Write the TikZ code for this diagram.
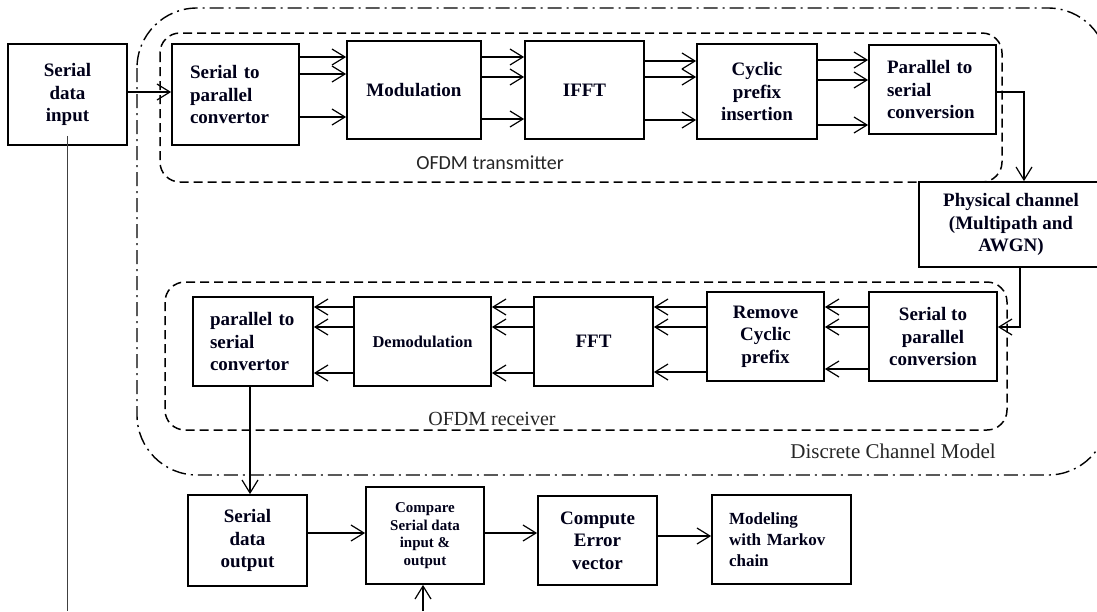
\documentclass[tikz,border=0pt]{standalone}
\usepackage{fontspec}
\newfontfamily\tnrfont{Liberation Serif}
\newfontfamily\carlfont{Carlito}
\usetikzlibrary{arrows.meta}
\begin{document}
\begin{tikzpicture}[x=1pt,y=-1pt,
  blk/.style={draw, line width=1.8pt, inner sep=0pt, align=center, text=black!90!blue,
    font=\tnrfont\bfseries\fontsize{19}{22.5}\selectfont},
  blkL/.style={blk, align=left},
  arr/.style={line width=1.2pt, -{Straight Barb[length=13pt,width=16pt,line width=1.2pt]}},
  plain/.style={line width=1pt, draw=black!75},
  ddash/.style={line width=1.5pt, dash pattern=on 9pt off 5pt, rounded corners=20pt},
  dashdotline/.style={line width=1.4pt, dash pattern=on 14pt off 5pt on 2pt off 5pt, rounded corners=60pt},
  lbl/.style={inner sep=0pt, text=black!85}
]
\useasboundingbox (0,0) rectangle (1097,611);
\clip (0,0) rectangle (1097,611);

% enclosing regions
\draw[dashdotline] (137,8) rectangle (1108,475);
\draw[ddash] (160,33) rectangle (1002,182);
\draw[ddash] (165,282) rectangle (1007,430);

% blocks
\node[blk, minimum width=119pt, minimum height=101pt] (in) at (67.5,94.5) {Serial\\data\\input};
\node[blkL, text width=91pt, inner xsep=18pt, minimum height=101pt] (s2p) at (235.5,94.5) {Serial to\\parallel\\convertor};
\node[blk, minimum width=134pt, minimum height=98pt] (mod) at (414,90) {Modulation};
\node[blk, minimum width=119pt, minimum height=98pt] (ifft) at (584.5,90) {IFFT};
\node[blk, minimum width=120pt, minimum height=95pt] (cyc) at (757,91.5) {Cyclic\\prefix\\insertion};
\node[blkL, text width=91pt, inner xsep=18pt, minimum height=89pt] (p2s) at (932.5,89.5) {Parallel to\\serial\\conversion};
\node[blk, minimum width=184pt, minimum height=85pt] (phy) at (1011,224.5) {Physical channel\\(Multipath and\\AWGN)};

\node[blk, minimum width=128pt, minimum height=89pt] (s2pr) at (933,336.5) {Serial to\\parallel\\conversion};
\node[blk, minimum width=117pt, minimum height=89pt] (rem) at (765.5,336.5) {Remove\\Cyclic\\prefix};
\node[blk, minimum width=119pt, minimum height=89pt] (fft) at (593.5,341.5) {FFT};
\node[blk, minimum width=137pt, minimum height=89pt, font=\tnrfont\bfseries\fontsize{16.5}{20}\selectfont] (dem) at (422.5,341.5) {Demodulation};
\node[blkL, text width=86pt, inner xsep=17pt, minimum height=89pt] (p2sr) at (253,341.5) {parallel to\\serial\\convertor};

\node[blk, minimum width=119pt, minimum height=91pt] (out) at (247.5,540.5) {Serial\\data\\output};
\node[blk, minimum width=118pt, minimum height=97pt, font=\tnrfont\bfseries\fontsize{15}{17.5}\selectfont] (cmp) at (425,535.5) {Compare\\Serial data\\input \&\\output};
\node[blk, minimum width=119pt, minimum height=89pt] (cer) at (597.5,540.5) {Compute\\Error\\vector};
\node[blkL, text width=105pt, inner xsep=17pt, minimum height=89pt, font=\tnrfont\bfseries\fontsize{17}{21}\selectfont] (mkv) at (781.5,539.5) {Modeling\\with Markov\\chain};

% labels
\node[lbl, font=\carlfont\fontsize{20}{24}\selectfont] (txl) at (490,163) {OFDM transmitter};
\node[lbl, anchor=base, font=\tnrfont\fontsize{20}{24}\selectfont] (rxl) at (492,425) {OFDM receiver};
\node[lbl, anchor=base, font=\tnrfont\fontsize{21}{25}\selectfont] (dcm) at (893,458) {Discrete Channel Model};

% free ends
\coordinate (bl) at (67,611);
\coordinate (cb) at (423,611);

% connectors
\draw[arr] (in.east |- 0,92) -- (s2p.west |- 0,92);
\foreach \yy in {57,74,117} \draw[arr] (s2p.east |- 0,\yy) -- (mod.west |- 0,\yy);
\foreach \yy in {57,77,119} \draw[arr] (mod.east |- 0,\yy) -- (ifft.west |- 0,\yy);
\foreach \yy in {61,77,120} \draw[arr] (ifft.east |- 0,\yy) -- (cyc.west |- 0,\yy);
\foreach \yy in {60,80,125} \draw[arr] (cyc.east |- 0,\yy) -- (p2s.west |- 0,\yy);
\draw[arr] (p2s.east |- 0,92) -| (1024,0 |- phy.north);
\draw[arr] (1020,0 |- phy.south) |- (s2pr.east |- 0,327);
\foreach \yy in {307,327,369} \draw[arr] (s2pr.west |- 0,\yy) -- (rem.east |- 0,\yy);
\foreach \yy in {307,327,372} \draw[arr] (rem.west |- 0,\yy) -- (fft.east |- 0,\yy);
\foreach \yy in {307,327,373} \draw[arr] (fft.west |- 0,\yy) -- (dem.east |- 0,\yy);
\foreach \yy in {307,327,373} \draw[arr] (dem.west |- 0,\yy) -- (p2sr.east |- 0,\yy);
\draw[arr] (250,0 |- p2sr.south) -- (250,0 |- out.north);
\draw[arr] (out.east |- 0,533) -- (cmp.west |- 0,533);
\draw[arr] (cmp.east |- 0,533) -- (cer.west |- 0,533);
\draw[arr] (cer.east |- 0,536) -- (mkv.west |- 0,536);
\draw[arr] (cb) -- (cb |- cmp.south);
\draw[plain] ([yshift=10pt]in.south) -- (in.south |- bl);
\end{tikzpicture}
\end{document}
